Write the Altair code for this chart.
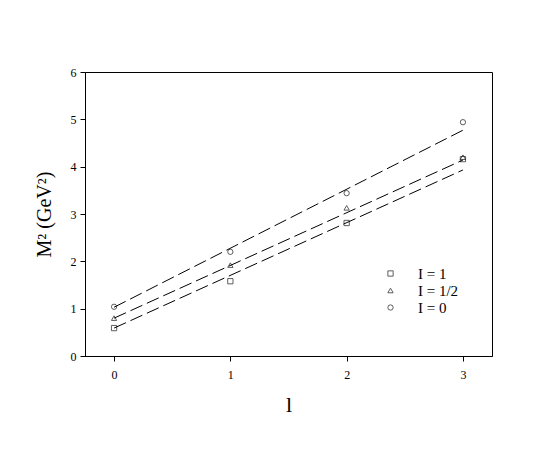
import altair as alt
import pandas as pd

l_vals = [0, 1, 2, 3]
series = ["I = 1", "I = 1/2", "I = 0"]
m2_I1 = [0.59, 1.58, 2.81, 4.16]
m2_Ihalf = [0.80, 1.92, 3.13, 4.20]
m2_I0 = [1.04, 2.20, 3.44, 4.94]

fit_l = [0, 3]
fit_I1 = [0.59, 3.93]
fit_Ihalf = [0.80, 4.14]
fit_I0 = [1.03, 4.77]

pts = pd.DataFrame(
    [{"l": x, "m2": y, "s": series[0]} for x, y in zip(l_vals, m2_I1)]
    + [{"l": x, "m2": y, "s": series[1]} for x, y in zip(l_vals, m2_Ihalf)]
    + [{"l": x, "m2": y, "s": series[2]} for x, y in zip(l_vals, m2_I0)]
)
fits = pd.DataFrame(
    [{"l": x, "m2": y, "s": series[0]} for x, y in zip(fit_l, fit_I1)]
    + [{"l": x, "m2": y, "s": series[1]} for x, y in zip(fit_l, fit_Ihalf)]
    + [{"l": x, "m2": y, "s": series[2]} for x, y in zip(fit_l, fit_I0)]
)

FONT = "Liberation Serif"

xscale = alt.Scale(domain=[-0.25, 3.25], nice=False, zero=False)
yscale = alt.Scale(domain=[0, 6], nice=False)

xaxis = alt.Axis(values=[0, 1, 2, 3], format="d", grid=False, tickSize=5, labelPadding=8,
                 title="l", titleFontSize=22, titleFontWeight="normal", titlePadding=14,
                 labelFontSize=12, labelFont=FONT, titleFont=FONT, domainColor="black",
                 tickColor="black", labelColor="black", titleColor="black")
yaxis = alt.Axis(values=[0, 1, 2, 3, 4, 5, 6], grid=False, tickSize=5, labelPadding=4,
                 title="M² (GeV²)", titleFontSize=20, titleFontWeight="normal", titlePadding=16,
                 labelFontSize=12, labelFont=FONT, titleFont=FONT, domainColor="black",
                 tickColor="black", labelColor="black", titleColor="black")

lines = alt.Chart(fits).mark_line(color="black", strokeDash=[13, 5], strokeWidth=1).encode(
    x=alt.X("l:Q", scale=xscale, axis=xaxis),
    y=alt.Y("m2:Q", scale=yscale, axis=yaxis),
    detail="s:N",
)

points = alt.Chart(pts).mark_point(filled=False, color="black", size=28, strokeWidth=0.9).encode(
    x=alt.X("l:Q", scale=xscale),
    y=alt.Y("m2:Q", scale=yscale),
    shape=alt.Shape("s:N",
                    scale=alt.Scale(domain=series, range=["square", "triangle-up", "circle"]),
                    legend=alt.Legend(title=None, orient="none", legendX=298, legendY=194,
                                      labelFont=FONT, labelFontSize=15, labelColor="black",
                                      labelOffset=20, rowPadding=1, symbolSize=28,
                                      symbolStrokeColor="black", symbolStrokeWidth=0.9,
                                      symbolFillColor="transparent")),
)

chart = (lines + points).properties(
    width=407, height=284,
    background="white",
    autosize=alt.AutoSizeParams(type="none"),
    padding={"left": 77, "top": 64, "right": 40, "bottom": 80},
).configure_view(stroke="black", strokeWidth=1)

chart.save("out.html", embed_options={"renderer": "svg", "actions": False})
